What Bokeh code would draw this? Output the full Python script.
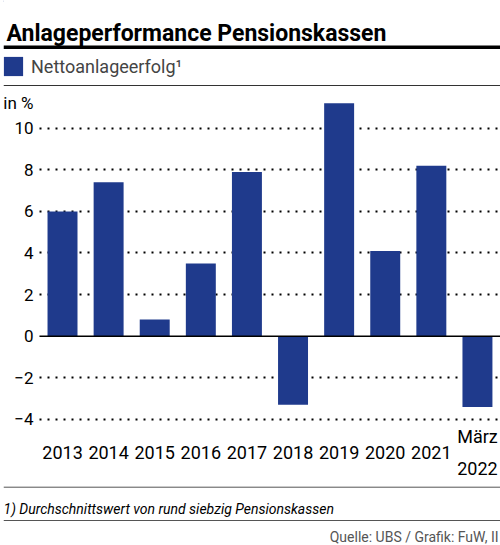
from bokeh.plotting import figure
from bokeh.layouts import column
from bokeh.models import ColumnDataSource, Range1d, FixedTicker, Legend, LegendItem
from bokeh.core.properties import value
from bokeh.embed import file_html
from bokeh.resources import INLINE

chart_title = "Anlageperformance Pensionskassen"
series_name = "Nettoanlageerfolg¹"
unit_label = "in %"
years = ["2013", "2014", "2015", "2016", "2017", "2018", "2019", "2020", "2021", "März 2022"]
values = [6.0, 7.4, 0.8, 3.5, 7.9, -3.3, 11.2, 4.1, 8.2, -3.4]
y_ticks = [-4, -2, 0, 2, 4, 6, 8, 10]
footnote = "1) Durchschnittswert von rund siebzig Pensionskassen"
source_note = "Quelle: UBS / Grafik: FuW, II"

FONT = value("Roboto")
BLUE = "#1f3a8c"
W = 500


def strip(height):
    # a figure with no axes whose data units are pixels from the top-left corner
    f = figure(width=W, height=height, x_range=Range1d(0, W), y_range=Range1d(height, 0),
               output_backend="svg", toolbar_location=None, min_border=0,
               x_axis_location=None, y_axis_location=None)
    f.grid.visible = False
    f.outline_line_color = None
    return f


# header: title, rules, legend
head = strip(88)
head.text(x=[3], y=[33], text=[chart_title], text_font=FONT, text_font_style="bold",
          text_font_size="23px", text_baseline="alphabetic", text_color="black")
head.segment(x0=[0], x1=[W], y0=[46.75], y1=[46.75], line_width=3.5, line_color="black")
head.segment(x0=[0], x1=[W], y0=[85], y1=[85], line_width=1.2, line_color="#333333")
key = head.vbar(x=[-100], top=[1], width=1, fill_color=BLUE, line_color=None)  # off-canvas, legend only
legend = Legend(items=[LegendItem(label=series_name, renderers=[key])],
                location=(-2, 10), glyph_width=24, glyph_height=24,
                label_standoff=6, padding=0, margin=0, spacing=0,
                border_line_color=None, background_fill_alpha=0,
                label_text_font="Roboto", label_text_font_size="18px", label_height=24)
head.add_layout(legend)

# main chart: category i sits on [i, i+1]; the strip left of 0 holds the value labels
n = len(years)
left_pad = 0.78
unit_pos = 11.2          # the "in %" caption sits like a tick label above 10
label_y = -5.59          # category labels below the -4 line
src = ColumnDataSource(data=dict(x=[i + 0.5 for i in range(n)], value=values,
                                 label=[y.replace(" ", "\n") for y in years]))

p = figure(width=W, height=392, x_range=Range1d(-left_pad, n), y_range=Range1d(-6.938, 11.524),
           output_backend="svg", toolbar_location=None, x_axis_location=None,
           min_border_left=0, min_border_right=0, min_border_top=8, min_border_bottom=0)
p.outline_line_color = None

p.xgrid.visible = False
grid = p.ygrid[0]
grid.ticker = FixedTicker(ticks=[t for t in y_ticks if t != 0])
grid.grid_line_color = "black"
grid.grid_line_dash = "2 6"
grid.grid_line_width = 1.8
if "cross_bounds" in grid.properties():
    grid.cross_bounds = (0, n)

p.vbar(x="x", top="value", width=0.65, source=src, fill_color=BLUE, line_color=None)
p.segment(x0=[0], x1=[n], y0=[0], y1=[0], line_color="black", line_width=1.6)

p.text(x="x", y=label_y, text="label", source=src, text_font=FONT,
       text_font_size="18px", text_align="center", text_baseline="middle",
       text_line_height=1.5, text_color="black")

ya = p.yaxis[0]
ya.ticker = FixedTicker(ticks=y_ticks + [unit_pos])
overrides = {t: str(t).replace("-", "\u2212") for t in y_ticks}
overrides[unit_pos] = unit_label
ya.major_label_overrides = overrides
ya.axis_line_color = None
ya.major_tick_line_color = None
ya.minor_tick_line_color = None
ya.major_tick_out = 0
ya.major_label_standoff = -30
ya.major_label_text_font = "Roboto"
ya.major_label_text_font_size = "17px"
ya.major_label_text_color = "black"

# footer: footnote and source
foot = strip(65)
foot.segment(x0=[0], x1=[W], y0=[6.7], y1=[6.7], line_width=1, line_color="#555555")
foot.segment(x0=[0], x1=[W], y0=[40], y1=[40], line_width=1, line_color="#555555")
foot.text(x=[0], y=[28], text=[footnote], text_font=FONT, text_font_style="italic",
          text_font_size="14px", text_baseline="alphabetic", text_color="black")
foot.text(x=[498], y=[56], text=[source_note], text_font=FONT, text_font_size="14px",
          text_align="right", text_baseline="middle", text_color="#555555")

page = column(head, p, foot, spacing=0)
open("out.html", "w").write(file_html(page, INLINE))
